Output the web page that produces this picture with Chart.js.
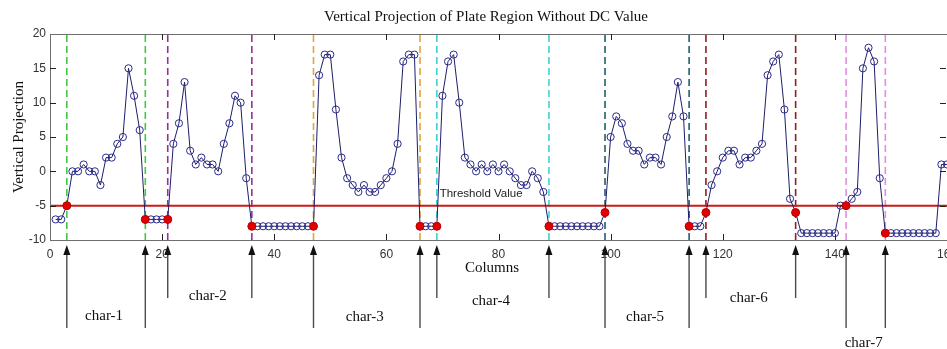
<!DOCTYPE html>
<html>
<head>
<meta charset="utf-8">
<script src="https://cdn.jsdelivr.net/npm/chart.js@4.4.1/dist/chart.umd.min.js"></script>
<style>
    html, body { margin: 0; padding: 0; background: #fff; }
    #wrap { width: 947px; height: 349px; }
</style>
</head>
<body>
<div id="wrap"><canvas id="projChart" width="947" height="349"></canvas></div>
<script>
// Columns of the plate image
const columns = [
    1, 2, 3, 4, 5, 6, 7, 8, 9, 10, 11, 12, 13, 14, 15, 16, 17, 18, 19, 20,
    21, 22, 23, 24, 25, 26, 27, 28, 29, 30, 31, 32, 33, 34, 35, 36, 37, 38, 39, 40,
    41, 42, 43, 44, 45, 46, 47, 48, 49, 50, 51, 52, 53, 54, 55, 56, 57, 58, 59, 60,
    61, 62, 63, 64, 65, 66, 67, 68, 69, 70, 71, 72, 73, 74, 75, 76, 77, 78, 79, 80,
    81, 82, 83, 84, 85, 86, 87, 88, 89, 90, 91, 92, 93, 94, 95, 96, 97, 98, 99, 100,
    101, 102, 103, 104, 105, 106, 107, 108, 109, 110, 111, 112, 113, 114, 115, 116, 117, 118, 119, 120,
    121, 122, 123, 124, 125, 126, 127, 128, 129, 130, 131, 132, 133, 134, 135, 136, 137, 138, 139, 140,
    141, 142, 143, 144, 145, 146, 147, 148, 149, 150, 151, 152, 153, 154, 155, 156, 157, 158, 159, 160
];

// Vertical projection without DC value
const projection = [
    -7, -7, -5, 0, 0, 1, 0, 0, -2, 2, 2, 4, 5, 15, 11, 6, -7, -7, -7, -7,
    -7, 4, 7, 13, 3, 1, 2, 1, 1, 0, 4, 7, 11, 10, -1, -8, -8, -8, -8, -8,
    -8, -8, -8, -8, -8, -8, -8, 14, 17, 17, 9, 2, -1, -2, -3, -2, -3, -3, -2, -1,
    0, 4, 16, 17, 17, -8, -8, -8, -8, 11, 16, 17, 10, 2, 1, 0, 1, 0, 1, 0,
    1, 0, -1, -2, -2, 0, -1, -3, -8, -8, -8, -8, -8, -8, -8, -8, -8, -8, -6, 5,
    8, 7, 4, 3, 3, 1, 2, 2, 1, 5, 8, 13, 8, -8, -8, -8, -6, -2, 0, 2,
    3, 3, 1, 2, 2, 3, 4, 14, 16, 17, 9, -4, -6, -9, -9, -9, -9, -9, -9, -9,
    -5, -5, -4, -3, 15, 18, 16, -1, -9, -9, -9, -9, -9, -9, -9, -9, -9, -9, 1, 1
];

// Character boundaries (start, end per character)
const boundaries = [3, 17, 21, 36, 47, 66, 69, 89, 99, 114, 117, 133, 142, 149];
const charNames = ['char-1', 'char-2', 'char-3', 'char-4', 'char-5', 'char-6', 'char-7'];
const charColors = ['#44c844', '#9a2f96', '#e3a43a', '#3fd2d2', '#1f5f6c', '#8e1f1f', '#e08ee0'];

const threshold = -5;
const xTicks = [0, 20, 40, 60, 80, 100, 120, 140, 160];
const yTicks = [-10, -5, 0, 5, 10, 15, 20];

const serif = '"Liberation Serif", "Times New Roman", serif';
const sans = '"Liberation Sans", Arial, sans-serif';

// Build datasets
const mainPoints = columns.map((c, i) => ({ x: c, y: projection[i] }));
const redPoints = boundaries.map(b => ({ x: b, y: projection[columns.indexOf(b)] }));

const datasets = [];

datasets.push({
    label: 'boundaries',
    data: redPoints,
    showLine: false,
    pointRadius: 4,
    pointBackgroundColor: '#e00000',
    pointBorderColor: '#c00000',
    pointBorderWidth: 1,
    order: 0
});

datasets.push({
    label: 'projection',
    data: mainPoints,
    showLine: true,
    borderColor: '#1d1d6b',
    borderWidth: 1,
    pointRadius: 3.6,
    pointBackgroundColor: 'rgba(0,0,0,0)',
    pointBorderColor: '#2a2a8a',
    pointBorderWidth: 1,
    tension: 0,
    order: 1
});

datasets.push({
    label: 'threshold',
    data: [{ x: 0, y: threshold }, { x: 160, y: threshold }],
    showLine: true,
    borderColor: '#cc1a1a',
    borderWidth: 2,
    pointRadius: 0,
    order: 2
});

boundaries.forEach((b, i) => {
    datasets.push({
        label: 'cut-' + b,
        data: [{ x: b, y: -10 }, { x: b, y: 20 }],
        showLine: true,
        borderColor: charColors[Math.floor(i / 2)],
        borderWidth: 1.6,
        borderDash: [7, 4],
        pointRadius: 0,
        order: 3
    });
});

// Frame, inward ticks and annotations
const annotations = {
    id: 'annotations',
    afterDatasetsDraw(chart) {
        const { ctx, chartArea: a, scales } = chart;
        const xs = scales.x, ys = scales.y;
        ctx.save();

        // frame
        ctx.strokeStyle = '#6e6e6e';
        ctx.lineWidth = 1;
        ctx.strokeRect(a.left + 0.5, a.top + 0.5, a.right - a.left, a.bottom - a.top);

        // inward ticks
        ctx.strokeStyle = '#222';
        ctx.beginPath();
        xTicks.slice(1, -1).forEach(v => {
            const px = Math.round(xs.getPixelForValue(v)) + 0.5;
            ctx.moveTo(px, a.bottom); ctx.lineTo(px, a.bottom - 6);
            ctx.moveTo(px, a.top); ctx.lineTo(px, a.top + 6);
        });
        yTicks.slice(1, -1).forEach(v => {
            const py = Math.round(ys.getPixelForValue(v)) + 0.5;
            ctx.moveTo(a.left, py); ctx.lineTo(a.left + 6, py);
            ctx.moveTo(a.right - 1, py); ctx.lineTo(a.right - 7, py);
        });
        ctx.stroke();

        // threshold text
        ctx.fillStyle = '#222';
        ctx.font = '11.5px ' + sans;
        ctx.textAlign = 'left';
        ctx.textBaseline = 'alphabetic';
        ctx.fillText('Threshold Value', xs.getPixelForValue(69.5), ys.getPixelForValue(-3.7));

        // title
        ctx.fillStyle = '#111';
        ctx.font = '15px ' + serif;
        ctx.textAlign = 'center';
        ctx.textBaseline = 'middle';
        ctx.fillText('Vertical Projection of Plate Region Without DC Value', 486, 17);

        // x axis title
        ctx.fillText('Columns', 492, 268);

        // y axis title
        ctx.save();
        ctx.translate(19, 137);
        ctx.rotate(-Math.PI / 2);
        ctx.fillText('Vertical Projection', 0, 0);
        ctx.restore();

        // arrows under the axis
        const tipY = 245;
        boundaries.forEach((b, i) => {
            const ci = Math.floor(i / 2);
            const long = ci % 2 === 0;
            const px = xs.getPixelForValue(b);
            const endY = long ? 328 : 298;
            ctx.strokeStyle = '#4a4a4a';
            ctx.fillStyle = '#111';
            ctx.lineWidth = 1.4;
            ctx.beginPath();
            ctx.moveTo(px, tipY + 8);
            ctx.lineTo(px, endY);
            ctx.stroke();
            ctx.beginPath();
            ctx.moveTo(px, tipY);
            ctx.lineTo(px - 3.5, tipY + 10);
            ctx.lineTo(px + 3.5, tipY + 10);
            ctx.closePath();
            ctx.fill();
        });

        // character labels
        const labelY = [316, 296, 317, 301, 317, 298, 343];
        ctx.fillStyle = '#111';
        ctx.font = '15px ' + serif;
        ctx.textAlign = 'center';
        ctx.textBaseline = 'middle';
        charNames.forEach((name, i) => {
            const mid = (boundaries[2 * i] + boundaries[2 * i + 1]) / 2;
            ctx.fillText(name, xs.getPixelForValue(mid) - 2, labelY[i]);
        });

        ctx.restore();
    }
};

const ctx = document.getElementById('projChart').getContext('2d');
const chart = new Chart(ctx, {
    type: 'scatter',
    data: { datasets },
    options: {
        responsive: false,
        animation: false,
        devicePixelRatio: 1,
        layout: { autoPadding: false, padding: { top: 34, left: 0, right: 0, bottom: 0 } },
        plugins: {
            legend: { display: false },
            tooltip: { enabled: false },
            title: { display: false }
        },
        scales: {
            x: {
                type: 'linear',
                min: 0,
                max: 160,
                grid: { display: false, drawTicks: false },
                border: { display: false },
                ticks: {
                    stepSize: 20,
                    padding: 7,
                    color: '#333',
                    font: { family: sans, size: 12 },
                    maxRotation: 0
                },
                afterFit: s => {
                    s.height = 109;
                    s.paddingLeft = 0;
                    s.paddingRight = 0;
                }
            },
            y: {
                type: 'linear',
                min: -10,
                max: 20,
                grid: { display: false, drawTicks: false },
                border: { display: false },
                ticks: {
                    stepSize: 5,
                    padding: 4,
                    color: '#333',
                    font: { family: sans, size: 12 }
                },
                afterFit: s => {
                    s.width = 50;
                    s.paddingTop = 0;
                    s.paddingBottom = 0;
                }
            }
        }
    },
    plugins: [annotations]
});
</script>
</body>
</html>
